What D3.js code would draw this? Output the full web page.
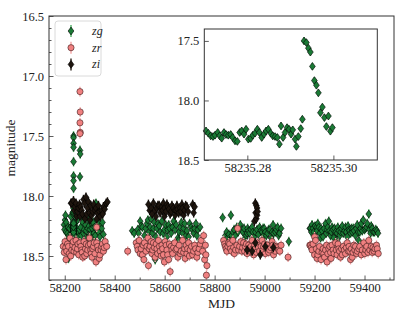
<!DOCTYPE html>
<html>
<head>
<meta charset="utf-8">
<script src="https://cdn.jsdelivr.net/npm/d3@7"></script>
<style>
  body { margin: 0; background: #fff; }
  text { font-family: "Liberation Serif", "DejaVu Serif", serif; fill: #222; }
</style>
</head>
<body>
<svg id="chart" width="415" height="312"></svg>
<script>
// [MJD, magnitude]
const zgData = [
  [58197,18.24],[58199,18.28],[58201,18.20],[58203,18.16],[58205,18.30],[58206,18.22],[58208,18.38],[58211,18.31],
  [58213,18.26],[58215,18.52],[58217,18.33],[58219,18.27],[58221,18.35],[58224,18.17],[58226,18.25],[58228,18.32],
  [58232,18.14],[58240,18.37],[58243,18.22],[58245,18.30],[58248,18.27],[58251,18.20],[58253,18.31],[58256,18.34],
  [58259,18.28],[58264,18.26],[58266,18.33],[58269,18.17],[58272,18.22],[58275,18.31],[58278,18.28],[58280,18.37],
  [58283,18.24],[58286,18.29],[58288,18.35],[58292,18.27],[58295,18.20],[58297,18.25],[58299,18.33],[58301,18.28],
  [58304,18.32],[58308,18.23],[58310,18.27],[58312,18.34],[58314,18.22],[58317,18.31],[58319,18.26],[58322,18.33],
  [58325,18.06],[58328,18.20],[58328,18.42],[58331,18.27],[58335,18.30],[58339,18.23],[58341,18.34],[58344,18.25],
  [58348,18.27],[58351,18.22],[58355,18.32],
  [58261,17.62],[58262,17.65],[58261,17.84],
  [58470,18.29],[58478,18.31],[58492,18.28],[58496,18.31],[58502,18.21],[58506,18.25],[58511,18.26],[58519,18.33],
  [58524,18.27],[58529,18.23],[58533,18.20],[58538,18.30],[58542,18.26],[58546,18.19],[58551,18.31],[58555,18.27],
  [58559,18.22],[58562,18.53],[58565,18.34],[58569,18.27],[58573,18.23],[58578,18.25],[58582,18.30],[58589,18.21],
  [58594,18.31],[58599,18.28],[58604,18.24],[58609,18.34],[58612,18.28],[58616,18.24],[58620,18.27],[58626,18.31],
  [58631,18.26],[58636,18.21],[58642,18.28],[58646,18.24],[58653,18.35],[58656,18.37],[58658,18.30],[58662,18.26],
  [58667,18.22],[58672,18.31],[58676,18.27],[58680,18.23],[58685,18.33],[58689,18.29],[58696,18.34],[58700,18.23],
  [58706,18.26],[58711,18.28],[58716,18.31],[58720,18.27],[58725,18.23],[58729,18.33],[58733,18.28],[58742,18.26],
  [58832,18.18],[58865,18.16],[58843,18.33],[58848,18.30],[58852,18.35],[58857,18.32],[58863,18.37],[58868,18.33],
  [58873,18.30],[58878,18.28],[58883,18.33],[58889,18.26],[58894,18.30],[58903,18.24],[58908,18.28],[58913,18.30],
  [58918,18.27],[58923,18.35],[58927,18.33],[58930,18.31],[58932,18.27],[58936,18.29],[58940,18.31],[58945,18.28],
  [58950,18.26],[58953,18.30],[58959,18.34],[58963,18.30],[58970,18.28],[58975,18.32],[58980,18.26],[58985,18.29],
  [58990,18.30],[58994,18.27],[58996,18.33],[58999,18.27],[59003,18.30],[59007,18.33],[59012,18.31],[59016,18.28],
  [59021,18.28],[59026,18.35],[59030,18.30],[59034,18.24],[59036,18.31],[59043,18.30],[59047,18.28],[59052,18.26],
  [59056,18.33],[59060,18.31],[59066,18.27],[59097,18.38],
  [59181,18.27],[59184,18.27],[59187,18.30],[59190,18.24],[59194,18.27],[59197,18.30],[59202,18.25],[59208,18.26],
  [59210,18.29],[59213,18.23],[59217,18.26],[59221,18.31],[59224,18.35],[59226,18.27],[59230,18.29],[59234,18.34],
  [59238,18.27],[59244,18.23],[59247,18.31],[59250,18.28],[59253,18.26],[59257,18.21],[59260,18.29],[59264,18.33],
  [59267,18.30],[59270,18.26],[59274,18.28],[59277,18.35],[59280,18.27],[59284,18.30],[59288,18.37],[59290,18.31],
  [59293,18.26],[59297,18.29],[59301,18.33],[59304,18.30],[59307,18.27],[59311,18.25],[59315,18.31],[59320,18.29],
  [59324,18.26],[59327,18.30],[59331,18.34],[59334,18.25],[59337,18.28],[59340,18.29],[59344,18.31],[59348,18.27],
  [59351,18.30],[59355,18.27],[59358,18.29],[59364,18.33],[59367,18.27],[59371,18.24],[59374,18.30],[59377,18.37],
  [59381,18.30],[59384,18.27],[59387,18.23],[59391,18.29],[59395,18.20],[59400,18.28],[59404,18.27],[59408,18.26],
  [59411,18.23],[59417,18.15],[59420,18.28],[59424,18.31],[59427,18.25],[59431,18.27],[59435,18.30],[59440,18.30],
  [59445,18.28],[59450,18.29],[59454,18.31]
];

const zrData = [
  [58194,18.42],[58198,18.47],[58201,18.38],[58204,18.43],[58205,18.53],[58208,18.46],[58211,18.40],[58215,18.42],
  [58218,18.48],[58221,18.35],[58224,18.50],[58228,18.45],[58232,18.41],[58234,18.38],[58237,18.46],[58241,18.43],
  [58245,18.37],[58248,18.47],[58251,18.44],[58253,18.40],[58256,18.49],[58261,18.39],[58265,18.42],[58268,18.45],
  [58270,18.47],[58272,18.51],[58277,18.38],[58280,18.50],[58283,18.44],[58286,18.40],[58288,18.48],[58292,18.45],
  [58295,18.41],[58299,18.35],[58302,18.40],[58304,18.45],[58306,18.48],[58309,18.51],[58312,18.44],[58315,18.42],
  [58318,18.39],[58321,18.48],[58325,18.55],[58328,18.39],[58328,18.26],[58332,18.42],[58335,18.45],[58338,18.52],
  [58341,18.49],[58345,18.45],[58348,18.42],[58351,18.40],[58355,18.46],[58358,18.43],[58362,18.38],[58368,18.42],
  [58261,17.13],[58262,17.30],[58261,17.39],[58262,17.47],[58261,17.48],
  [58452,18.46],
  [58486,18.39],[58490,18.42],[58493,18.45],[58498,18.37],[58502,18.48],[58506,18.44],[58511,18.49],[58514,18.41],
  [58517,18.53],[58519,18.39],[58525,18.46],[58529,18.42],[58533,18.35],[58535,18.58],[58538,18.44],[58542,18.42],
  [58546,18.38],[58549,18.48],[58552,18.45],[58555,18.39],[58559,18.43],[58562,18.51],[58566,18.40],[58569,18.44],
  [58572,18.48],[58575,18.37],[58579,18.42],[58582,18.46],[58586,18.50],[58589,18.41],[58592,18.44],[58595,18.49],
  [58599,18.55],[58602,18.38],[58606,18.41],[58609,18.45],[58612,18.49],[58616,18.53],[58619,18.40],[58622,18.63],
  [58626,18.42],[58629,18.45],[58632,18.48],[58636,18.43],[58640,18.39],[58645,18.45],[58649,18.44],[58653,18.51],
  [58658,18.41],[58662,18.48],[58666,18.46],[58672,18.37],[58676,18.47],[58680,18.44],[58682,18.52],[58686,18.41],
  [58689,18.48],[58692,18.44],[58696,18.39],[58699,18.50],[58702,18.45],[58708,18.42],[58712,18.49],[58716,18.46],
  [58720,18.41],[58724,18.44],[58729,18.51],[58733,18.47],[58738,18.44],[58742,18.40],[58746,18.37],[58752,18.46],
  [58756,18.33],[58760,18.53],[58763,18.41],[58765,18.49],[58767,18.66],[58769,18.58],
  [58836,18.37],[58840,18.40],[58843,18.42],[58846,18.44],[58849,18.46],[58853,18.42],[58856,18.39],[58860,18.40],
  [58863,18.44],[58868,18.46],[58873,18.37],[58876,18.43],[58879,18.48],[58884,18.45],[58889,18.41],[58892,18.27],
  [58896,18.45],[58900,18.42],[58905,18.38],[58909,18.46],[58912,18.43],[58916,18.39],[58920,18.46],[58923,18.42],
  [58927,18.40],[58930,18.48],[58936,18.41],[58940,18.44],[58943,18.46],[58946,18.42],[58950,18.37],[58953,18.44],
  [58956,18.49],[58960,18.41],[58963,18.44],[58967,18.47],[58972,18.39],[58976,18.43],[58980,18.46],[58986,18.42],
  [58990,18.37],[58993,18.45],[58996,18.42],[59000,18.40],[59003,18.48],[59008,18.44],[59012,18.41],[59016,18.47],
  [59020,18.45],[59025,18.43],[59030,18.38],[59033,18.41],[59036,18.49],[59042,18.46],[59047,18.42],[59051,18.43],
  [59057,18.45],[59061,18.46],[59066,18.41],[59094,18.51],
  [59181,18.41],[59184,18.41],[59187,18.43],[59190,18.45],[59194,18.40],[59200,18.49],[59200,18.34],[59204,18.37],
  [59207,18.44],[59210,18.52],[59213,18.49],[59217,18.46],[59220,18.42],[59226,18.53],[59230,18.47],[59234,18.44],
  [59237,18.48],[59240,18.51],[59244,18.45],[59248,18.41],[59250,18.55],[59253,18.48],[59257,18.44],[59261,18.42],
  [59264,18.47],[59266,18.52],[59270,18.41],[59274,18.45],[59278,18.48],[59284,18.39],[59287,18.45],[59290,18.49],
  [59294,18.40],[59297,18.44],[59300,18.46],[59304,18.51],[59308,18.44],[59311,18.49],[59315,18.42],[59319,18.45],
  [59324,18.48],[59327,18.43],[59331,18.39],[59335,18.46],[59338,18.42],[59341,18.46],[59344,18.53],[59347,18.44],
  [59351,18.51],[59354,18.47],[59357,18.41],[59361,18.45],[59364,18.42],[59368,18.48],[59371,18.46],[59377,18.44],
  [59381,18.42],[59387,18.49],[59391,18.45],[59397,18.39],[59401,18.48],[59405,18.45],[59409,18.42],[59414,18.47],
  [59417,18.37],[59421,18.45],[59427,18.42],[59431,18.47],[59434,18.43],[59438,18.46],[59442,18.44],[59448,18.41],
  [59451,18.44],[59455,18.48]
];

const ziData = [
  [58225,18.06],[58228,18.06],[58235,18.04],[58238,18.12],[58241,18.09],[58245,18.06],[58248,18.17],[58251,18.13],
  [58255,18.10],[58259,18.07],[58261,18.17],[58264,18.09],[58268,18.12],[58271,18.15],[58275,18.03],[58280,18.06],
  [58281,18.19],[58285,18.01],[58288,18.15],[58291,18.10],[58295,18.05],[58299,18.14],[58301,18.20],[58304,18.08],
  [58308,18.16],[58312,18.13],[58316,18.07],[58321,18.12],[58325,18.10],[58328,18.19],[58331,18.14],[58335,18.08],
  [58339,18.13],[58342,18.17],[58348,18.12],[58352,18.15],[58355,18.09],[58360,18.11],[58366,18.06],[58371,18.05],
  [58535,18.07],[58540,18.12],[58546,18.10],[58550,18.15],[58555,18.06],[58562,18.12],[58565,18.17],[58568,18.10],
  [58573,18.08],[58578,18.08],[58582,18.14],[58589,18.09],[58592,18.12],[58595,18.06],[58599,18.17],[58600,18.10],
  [58605,18.13],[58609,18.07],[58613,18.09],[58617,18.11],[58622,18.15],[58626,18.13],[58629,18.08],[58635,18.10],
  [58640,18.12],[58642,18.16],[58645,18.12],[58649,18.08],[58652,18.11],[58656,18.14],[58662,18.10],[58665,18.13],
  [58669,18.07],[58672,18.10],[58676,18.16],[58680,18.12],[58684,18.08],[58689,18.09],[58694,18.13],[58712,18.07],
  [58716,18.14],[58720,18.09],
  [58959,18.21],[58963,18.06],[58964,18.14],[58967,18.08],[58967,18.19],[58970,18.10],[58970,18.16],[58972,18.13],
  [58930,18.45],[58950,18.46],[58963,18.39],[58983,18.49],[59003,18.42],[59035,18.43]
];

// zg on the night of MJD 58235 (inset)
const insetData = [
  [58235.27040,18.256],[58235.27094,18.275],[58235.27148,18.297],[58235.27202,18.303],[58235.27249,18.292],
  [58235.27311,18.269],[58235.27357,18.297],[58235.27404,18.317],[58235.27458,18.269],[58235.27505,18.286],
  [58235.27559,18.292],[58235.27613,18.286],[58235.27660,18.311],[58235.27714,18.339],[58235.27768,18.344],
  [58235.27822,18.269],[58235.27869,18.256],[58235.27923,18.283],[58235.27970,18.242],[58235.28024,18.325],
  [58235.28078,18.319],[58235.28125,18.292],[58235.28179,18.275],[58235.28233,18.242],[58235.28280,18.269],
  [58235.28334,18.311],[58235.28388,18.283],[58235.28435,18.256],[58235.28489,18.242],[58235.28543,18.275],
  [58235.28590,18.297],[58235.28644,18.303],[58235.28698,18.311],[58235.28745,18.367],[58235.28783,18.214],
  [58235.28830,18.311],[58235.28876,18.269],[58235.28923,18.228],[58235.28969,18.242],[58235.29016,18.283],
  [58235.29055,18.247],[58235.29109,18.325],[58235.29140,18.386],[58235.29186,18.303],[58235.29241,18.236],
  [58235.29279,18.158],[58235.29318,17.500],[58235.29372,17.514],[58235.29419,17.561],[58235.29465,17.594],
  [58235.29512,17.714],[58235.29558,17.833],[58235.29605,17.872],[58235.29651,17.936],[58235.29698,18.103],
  [58235.29744,18.056],[58235.29791,18.144],[58235.29837,18.219],[58235.29884,18.131],[58235.29930,18.258],
  [58235.29977,18.228]
];

const magErr = 0.04;
const insetErr = 0.03;

const xMajor = [58200, 58400, 58600, 58800, 59000, 59200, 59400];
const xMinor = [58300, 58500, 58700, 58900, 59100, 59300, 59500];
const yMajor = [16.5, 17.0, 17.5, 18.0, 18.5];
const yMinor = [16.6, 16.7, 16.8, 16.9, 17.1, 17.2, 17.3, 17.4, 17.6, 17.7, 17.8, 17.9, 18.1, 18.2, 18.3, 18.4, 18.6, 18.7];
const insetXTicks = [58235.28, 58235.30];
const insetYTicks = [17.5, 18.0, 18.5];

const bands = [
  {name: "zg", fill: "#1a7a35", err: "#4fae63", shape: "diamond"},
  {name: "zr", fill: "#f08080", err: "#f4a3a3", shape: "circle"},
  {name: "zi", fill: "#1e150e", err: "#2a2018", shape: "diamond"}
];

const svg = d3.select("#chart");
const W = {l: 49, r: 394, t: 16, b: 280};

const x = d3.scaleLinear().domain([58137, 59518]).range([W.l, W.r]);
const y = d3.scaleLinear().domain([16.5, 18.7]).range([W.t, W.b]);

const diamond = "M0,-3.9L2.9,0L0,3.9L-2.9,0Z";

function drawPoints(g, data, band, xs, ys, err) {
  const grp = g.append("g");
  grp.selectAll("line").data(data).enter().append("line")
    .attr("x1", d => xs(d[0])).attr("x2", d => xs(d[0]))
    .attr("y1", d => ys(d[1] - err)).attr("y2", d => ys(d[1] + err))
    .attr("stroke", band.err).attr("stroke-width", 1.4);
  if (band.shape === "circle") {
    grp.selectAll("circle").data(data).enter().append("circle")
      .attr("cx", d => xs(d[0])).attr("cy", d => ys(d[1])).attr("r", 3.1)
      .attr("fill", band.fill).attr("stroke", "#3a1a1a").attr("stroke-width", 0.6);
  } else {
    grp.selectAll("path").data(data).enter().append("path")
      .attr("d", diamond)
      .attr("transform", d => `translate(${xs(d[0])},${ys(d[1])})`)
      .attr("fill", band.fill).attr("stroke", "#000").attr("stroke-width", 0.6);
  }
}

const plot = svg.append("g");
drawPoints(plot, zgData.concat(insetData), bands[0], x, y, magErr);
drawPoints(plot, zrData, bands[1], x, y, magErr);
drawPoints(plot, ziData, bands[2], x, y, magErr);

// axes, ticks inward
const axes = svg.append("g");
axes.append("g").attr("transform", `translate(0,${W.b})`)
  .call(d3.axisBottom(x).tickValues(xMajor).tickSize(-4.5).tickPadding(3).tickFormat(d3.format("d")));
axes.append("g").attr("transform", `translate(0,${W.b})`)
  .call(d3.axisBottom(x).tickValues(xMinor).tickSize(-2.5).tickFormat(""));
axes.append("g").attr("transform", `translate(${W.l},0)`)
  .call(d3.axisLeft(y).tickValues(yMajor).tickSize(-4.5).tickPadding(5).tickFormat(d3.format(".1f")));
axes.append("g").attr("transform", `translate(${W.l},0)`)
  .call(d3.axisLeft(y).tickValues(yMinor).tickSize(-2.5).tickFormat(""));
axes.selectAll(".domain").remove();
axes.selectAll(".tick line").attr("stroke", "#333").attr("stroke-width", 0.8);
axes.selectAll(".tick text").style("font-size", "12.5px").style("font-family", '"Liberation Serif", serif').attr("fill", "#222");

svg.append("rect").attr("x", W.l).attr("y", W.t).attr("width", W.r - W.l).attr("height", W.b - W.t)
  .attr("fill", "none").attr("stroke", "#333").attr("stroke-width", 1);

svg.append("text").attr("x", (W.l + W.r) / 2).attr("y", 308).attr("text-anchor", "middle")
  .style("font-size", "13.5px").text("MJD");
svg.append("text").attr("transform", `translate(15,${(W.t + W.b) / 2}) rotate(-90)`).attr("text-anchor", "middle")
  .style("font-size", "13.5px").text("magnitude");

// legend
const lg = svg.append("g");
lg.append("rect").attr("x", 55).attr("y", 21).attr("width", 46).attr("height", 55).attr("rx", 3)
  .attr("fill", "#fff").attr("fill-opacity", 0.8).attr("stroke", "#d0d0d0").attr("stroke-width", 0.8);
bands.forEach((b, i) => {
  const cy = 31 + i * 16.7;
  lg.append("line").attr("x1", 71).attr("x2", 71).attr("y1", cy - 6).attr("y2", cy + 6)
    .attr("stroke", b.err).attr("stroke-width", 1.4);
  if (b.shape === "circle") {
    lg.append("circle").attr("cx", 71).attr("cy", cy).attr("r", 3.1)
      .attr("fill", b.fill).attr("stroke", "#3a1a1a").attr("stroke-width", 0.6);
  } else {
    lg.append("path").attr("d", diamond).attr("transform", `translate(71,${cy})`)
      .attr("fill", b.fill).attr("stroke", "#000").attr("stroke-width", 0.6);
  }
  lg.append("text").attr("x", 92).attr("y", cy + 4).style("font-size", "12px")
    .style("font-style", "italic").text(b.name);
});

// inset
const I = {l: 204.3, r: 377.3, t: 29, b: 160};
const xi = d3.scaleLinear().domain([58235.27, 58235.3102]).range([I.l, I.r]);
const yi = d3.scaleLinear().domain([17.4, 18.5]).range([I.t, I.b]);
svg.append("rect").attr("x", I.l).attr("y", I.t).attr("width", I.r - I.l).attr("height", I.b - I.t)
  .attr("fill", "#fff");
const ins = svg.append("g");
drawPoints(ins, insetData, bands[0], xi, yi, insetErr);
const ia = svg.append("g");
ia.append("g").attr("transform", `translate(0,${I.b})`)
  .call(d3.axisBottom(xi).tickValues(insetXTicks).tickSize(-4.5).tickPadding(3).tickFormat(d3.format(".2f")));
ia.append("g").attr("transform", `translate(${I.l},0)`)
  .call(d3.axisLeft(yi).tickValues(insetYTicks).tickSize(-4.5).tickPadding(5).tickFormat(d3.format(".1f")));
ia.selectAll(".domain").remove();
ia.selectAll(".tick line").attr("stroke", "#333").attr("stroke-width", 0.8);
ia.selectAll(".tick text").style("font-size", "12.5px").style("font-family", '"Liberation Serif", serif').attr("fill", "#222");
svg.append("rect").attr("x", I.l).attr("y", I.t).attr("width", I.r - I.l).attr("height", I.b - I.t)
  .attr("fill", "none").attr("stroke", "#333").attr("stroke-width", 1);
</script>
</body>
</html>
